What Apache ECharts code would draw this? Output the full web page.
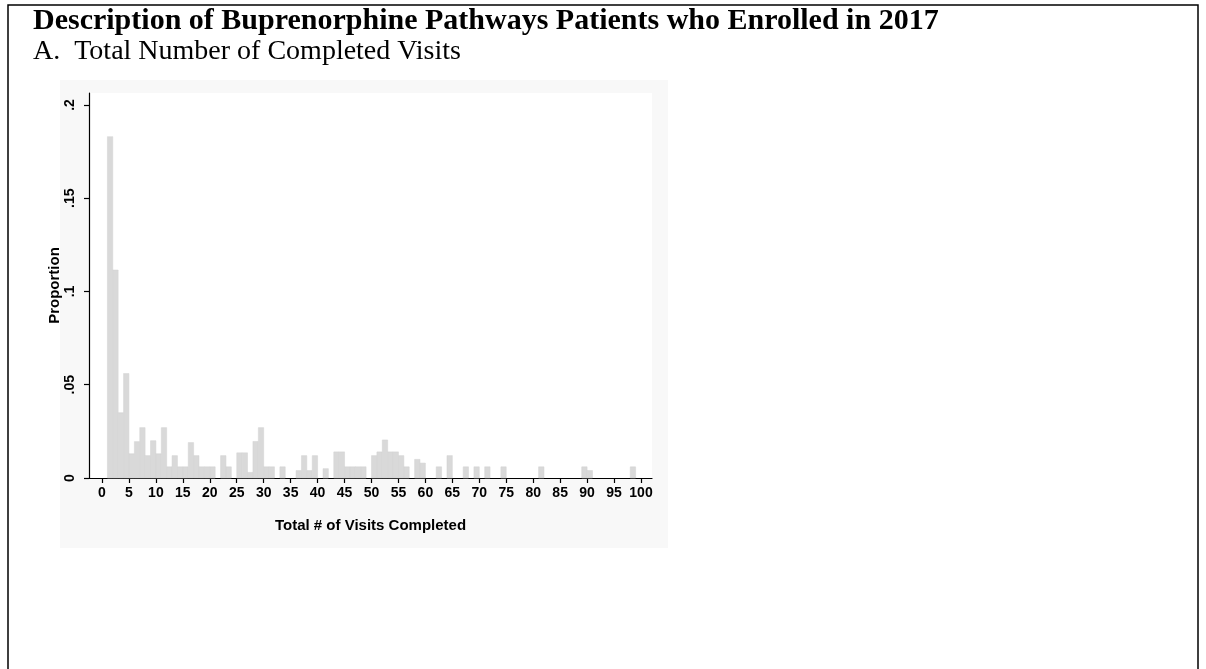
<!DOCTYPE html>
<html>
<head>
<meta charset="utf-8">
<script src="https://cdn.jsdelivr.net/npm/echarts@6/dist/echarts.min.js"></script>
<style>
  html, body { margin: 0; padding: 0; background: #ffffff; }
  #chart { width: 1206px; height: 669px; }
</style>
</head>
<body>
<div id="chart"></div>
<script>
// Total number of completed visits (histogram bin start, bin width 1)
const visits = [1,2,3,4,5,6,7,8,9,10,11,12,13,14,15,16,17,18,19,20,22,23,25,26,27,28,29,30,31,33,36,37,38,39,41,43,44,45,46,47,48,50,51,52,53,54,55,56,58,59,62,64,67,69,71,74,81,89,90,98];
// Proportion of patients in each bin
const proportions = [0.183,0.1115,0.035,0.056,0.013,0.0195,0.027,0.012,0.020,0.013,0.027,0.006,0.012,0.006,0.006,0.019,0.012,0.006,0.006,0.006,0.012,0.006,0.0135,0.0135,0.003,0.0196,0.027,0.006,0.006,0.006,0.004,0.012,0.004,0.012,0.005,0.014,0.014,0.006,0.006,0.006,0.006,0.012,0.014,0.0204,0.014,0.014,0.012,0.006,0.010,0.008,0.006,0.012,0.006,0.006,0.006,0.006,0.006,0.006,0.004,0.006];
const binWidth = 1;
const xTicks = [0,5,10,15,20,25,30,35,40,45,50,55,60,65,70,75,80,85,90,95,100];
const yTicks = [0,0.05,0.1,0.15,0.2];
const yTickLabels = ['0','.05','.1','.15','.2'];

const titleText = 'Description of Buprenorphine Pathways Patients who Enrolled in 2017';
const subtitleText = 'A.  Total Number of Completed Visits';

const data = visits.map((v, i) => [v, proportions[i]]);

const chart = echarts.init(document.getElementById('chart'), null, { renderer: 'canvas' });

const sans = 'Liberation Sans, Arial, sans-serif';
const serif = 'Liberation Serif, Times New Roman, serif';

const option = {
  backgroundColor: '#ffffff',
  animation: false,
  title: [
    {
      text: titleText,
      left: 28, top: 1,
      textStyle: { fontFamily: serif, fontWeight: 'bold', fontSize: 30, color: '#000' }
    },
    {
      text: subtitleText,
      left: 28, top: 33,
      textStyle: { fontFamily: serif, fontWeight: 'normal', fontSize: 28, color: '#000' }
    }
  ],
  graphic: [
    { type: 'rect', z: -10, silent: true, shape: { x: 8, y: 5, width: 1190, height: 700 }, style: { fill: 'none', stroke: '#000', lineWidth: 1.5 } },
    { type: 'rect', z: -9, silent: true, shape: { x: 60, y: 80, width: 608, height: 468 }, style: { fill: '#f8f8f8' } }
  ],
  grid: { left: 89, right: 554, top: 93, bottom: 191, show: true, backgroundColor: '#ffffff', borderWidth: 0 },
  xAxis: {
    type: 'value',
    min: -2.41, max: 102.04,
    name: 'Total # of Visits Completed',
    nameLocation: 'middle', nameGap: 40,
    nameTextStyle: { fontFamily: sans, fontWeight: 'bold', fontSize: 15, color: '#000' },
    axisLine: { show: true, onZero: false, lineStyle: { color: '#000', width: 1.2 } },
    axisTick: { show: true, length: 5, customValues: xTicks, lineStyle: { color: '#000', width: 1.2 } },
    axisLabel: { show: true, customValues: xTicks, margin: 8, fontFamily: sans, fontWeight: 'bold', fontSize: 14, color: '#000' },
    splitLine: { show: false }
  },
  yAxis: {
    type: 'value',
    min: 0, max: 0.2064,
    name: 'Proportion',
    nameLocation: 'middle', nameGap: 27, nameRotate: 90,
    nameTextStyle: { fontFamily: sans, fontWeight: 'bold', fontSize: 15, color: '#000' },
    axisLine: { show: true, onZero: false, lineStyle: { color: '#000', width: 1.2 } },
    axisTick: { show: true, length: 5, customValues: yTicks, lineStyle: { color: '#000', width: 1.2 } },
    axisLabel: {
      show: true, customValues: yTicks, rotate: 90, margin: 12,
      fontFamily: sans, fontWeight: 'bold', fontSize: 14, color: '#000',
      formatter: function (val) {
        const idx = yTicks.findIndex(t => Math.abs(t - val) < 1e-9);
        return idx >= 0 ? yTickLabels[idx] : '';
      }
    },
    splitLine: { show: false }
  },
  series: [
    {
      type: 'custom',
      data: data,
      encode: { x: 0, y: 1 },
      renderItem: function (params, api) {
        const x0 = api.value(0);
        const y = api.value(1);
        const p0 = api.coord([x0, 0]);
        const p1 = api.coord([x0 + binWidth, y]);
        return {
          type: 'rect',
          shape: { x: p0[0], y: p1[1], width: p1[0] - p0[0], height: p0[1] - p1[1] },
          style: { fill: '#d9d9d9', stroke: '#d2d2d2', lineWidth: 0.5 }
        };
      }
    }
  ]
};

chart.setOption(option);
</script>
</body>
</html>
